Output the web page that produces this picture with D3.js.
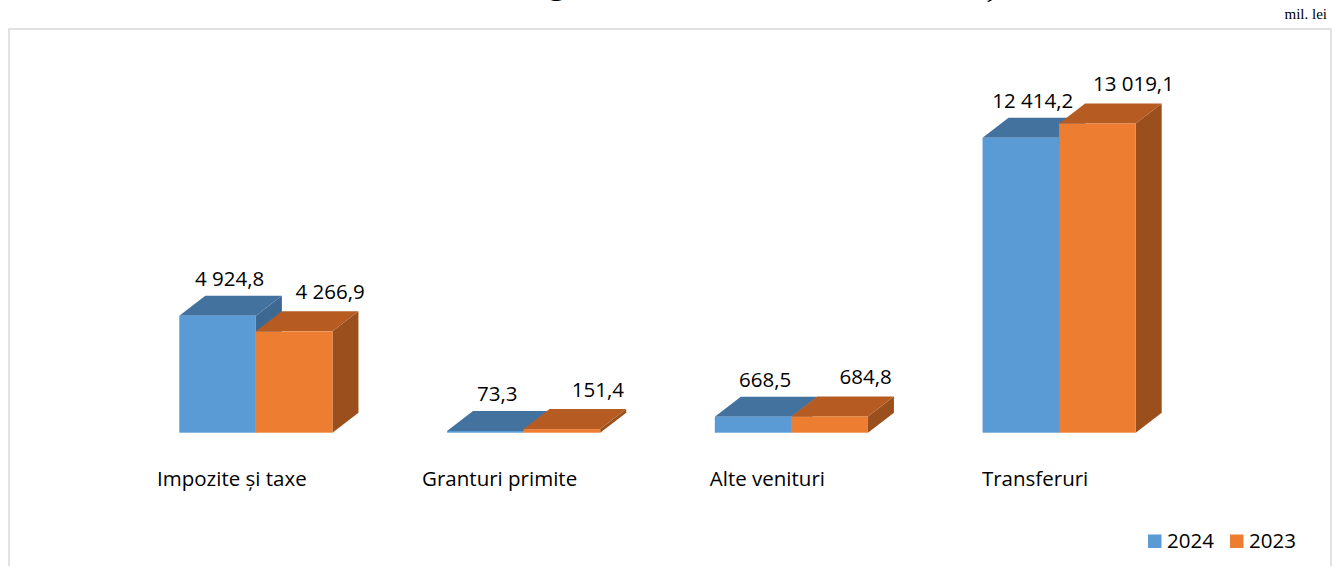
<!DOCTYPE html>
<html>
<head>
<meta charset="utf-8">
<script src="https://cdn.jsdelivr.net/npm/d3@7"></script>
<style>
  body { margin: 0; background: #fff; }
</style>
</head>
<body>
<script>
// chart data
const categories = ["Impozite și taxe", "Granturi primite", "Alte venituri", "Transferuri"];
const series = ["2024", "2023"];
const values2024 = [4924.8, 73.3, 668.5, 12414.2];
const values2023 = [4266.9, 151.4, 684.8, 13019.1];
const yTicks = [0, 14000];
const titleText = "Veniturile bugetelor locale, în anul 2024 față de 2023";
const unitText = "mil. lei";

const w = 1336, h = 566;

// colours for front / top / side faces of each series
const colors = {
  "2024": {front: "#5b9bd5", top: "#43729e", side: "#3d6892"},
  "2023": {front: "#ed7d31", top: "#b65c23", side: "#9a4f1d"}
};
// label shift from the bar's front centre (3D projection quirk)
const labelShift = {"2024": {dx: 12, dy: -10}, "2023": {dx: 36, dy: -12}};

const depth = {dx: 26, dy: 20};
const font = "'Open Sans', Calibri, sans-serif";

const svg = d3.select("body").append("svg")
  .attr("width", w)
  .attr("height", h)
  .attr("viewBox", [0, 0, w, h]);

// outer chart border (bottom edge is off the picture)
svg.append("rect")
  .attr("x", 9).attr("y", 29)
  .attr("width", 1322).attr("height", 600)
  .attr("fill", "none")
  .attr("stroke", "#d9d9d9")
  .attr("stroke-width", 1.5);

// title, cut off by the top edge of the picture (as in the source)
const title = svg.append("text")
  .attr("font-family", "'Liberation Serif', 'Times New Roman', serif")
  .attr("font-weight", "bold")
  .attr("font-size", 20)
  .attr("x", 0).attr("y", 0)
  .text(titleText);
const node = title.node();
const gi = titleText.indexOf("g"), ci = titleText.indexOf(",");
const dist = node.getStartPositionOfChar(ci).x - node.getStartPositionOfChar(gi).x;
const fs = dist > 0 ? 20 * (745 - 548) / dist : 26;
title.attr("font-size", fs);
const gx = node.getStartPositionOfChar(gi).x;
title.attr("x", 548 - gx).attr("y", 0.5 - 0.215 * fs);

// unit label
svg.append("text")
  .attr("x", 1327).attr("y", 19)
  .attr("text-anchor", "end")
  .attr("font-family", "'Liberation Serif', 'Times New Roman', serif")
  .attr("font-size", 15)
  .text(unitText);

// scales
const x0 = d3.scaleBand()
  .domain(categories)
  .range([122, 1193])
  .paddingInner(0.428)
  .paddingOuter(0.214);

const x1 = d3.scaleBand()
  .domain(series)
  .range([0, x0.bandwidth()]);

const y = d3.scaleLinear()
  .domain(d3.extent(yTicks))
  .range([432.7, 100.2]);

const fmt = d3.formatLocale({decimal: ",", thousands: " ", grouping: [3], currency: ["", ""]}).format(",.1f");

const data = categories.map((c, i) => ({
  cat: c,
  vals: [{s: "2024", v: values2024[i]}, {s: "2023", v: values2023[i]}]
}));

const groups = svg.append("g")
  .selectAll("g")
  .data(data)
  .join("g")
  .attr("transform", d => `translate(${x0(d.cat)},0)`);

const bars = groups.selectAll("g.bar")
  .data(d => d.vals)
  .join("g")
  .attr("class", "bar");

const y0 = y(0);

// side face
bars.append("path")
  .attr("fill", d => colors[d.s].side)
  .attr("d", d => {
    const xl = x1(d.s), xr = xl + x1.bandwidth(), yt = y(d.v);
    return `M${xr},${yt}L${xr + depth.dx},${yt - depth.dy}L${xr + depth.dx},${y0 - depth.dy}L${xr},${y0}Z`;
  });

// top face
bars.append("path")
  .attr("fill", d => colors[d.s].top)
  .attr("d", d => {
    const xl = x1(d.s), xr = xl + x1.bandwidth(), yt = y(d.v);
    return `M${xl},${yt}L${xr},${yt}L${xr + depth.dx},${yt - depth.dy}L${xl + depth.dx},${yt - depth.dy}Z`;
  });

// front face
bars.append("rect")
  .attr("fill", d => colors[d.s].front)
  .attr("x", d => x1(d.s))
  .attr("y", d => y(d.v))
  .attr("width", x1.bandwidth())
  .attr("height", d => y0 - y(d.v));

// data labels
bars.append("text")
  .attr("x", d => x1(d.s) + x1.bandwidth() / 2 + labelShift[d.s].dx)
  .attr("y", d => y(d.v) - depth.dy + labelShift[d.s].dy)
  .attr("text-anchor", "middle")
  .attr("font-family", font)
  .attr("font-size", 20.5)
  .attr("fill", "#000")
  .text(d => fmt(d.v));

// category labels
svg.append("g")
  .selectAll("text")
  .data(categories)
  .join("text")
  .attr("x", d => x0(d) + x0.bandwidth() / 2 - 24)
  .attr("y", 486)
  .attr("text-anchor", "middle")
  .attr("font-family", font)
  .attr("font-size", 20.5)
  .attr("fill", "#000")
  .text(d => d);

// legend
const legend = svg.append("g")
  .selectAll("g")
  .data(series)
  .join("g")
  .attr("transform", (d, i) => `translate(${1148 + i * 82},0)`);

legend.append("rect")
  .attr("x", 0).attr("y", 534.5)
  .attr("width", 13.5).attr("height", 13.5)
  .attr("fill", d => colors[d].front);

legend.append("text")
  .attr("x", 19).attr("y", 548)
  .attr("font-family", font)
  .attr("font-size", 20.5)
  .attr("fill", "#000")
  .text(d => d);
</script>
</body>
</html>
